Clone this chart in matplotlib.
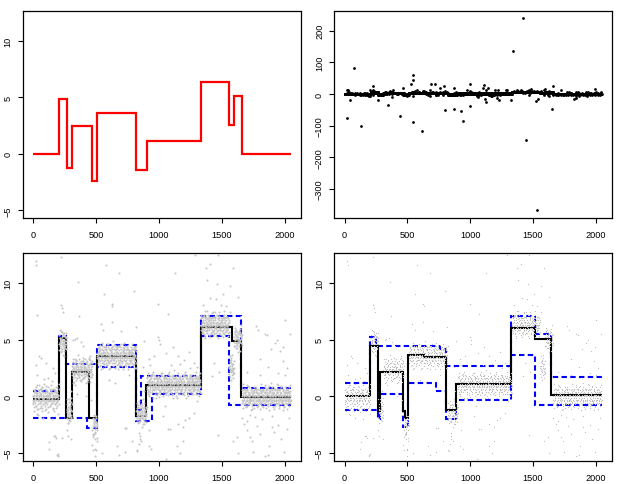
import numpy as np
import matplotlib.pyplot as plt

plt.rcParams['font.family'] = ['Liberation Sans', 'DejaVu Sans']
plt.rcParams['font.size'] = 6.6
plt.rcParams['axes.linewidth'] = 0.9
plt.rcParams['xtick.major.size'] = 3.4
plt.rcParams['ytick.major.size'] = 3.4
plt.rcParams['xtick.major.width'] = 0.8
plt.rcParams['ytick.major.width'] = 0.8
plt.rcParams['xtick.major.pad'] = 5.5
plt.rcParams['ytick.major.pad'] = 4

# true piecewise-constant signal
block_edges = [0, 205, 267, 308, 472, 512, 820, 902, 1332, 1557, 1598, 1659, 2048]
block_levels = [0, 4.88, -1.22, 2.44, -2.44, 3.66, -1.46, 1.10, 6.34, 2.56, 5.12, 0]

# fit 1 (bottom left): estimate and bands
fit1_edges = [0, 204, 265, 306, 444, 510, 820, 899, 1333, 1580, 1655, 2048]
fit1_levels = [-0.2, 5.13, -1.94, 2.18, -1.86, 3.56, -1.73, 0.98, 6.14, 4.92, -0.05]
fit1_up_edges = [0, 204, 262, 510, 820, 860, 1333, 1656, 2048]
fit1_up_levels = [0.5, 5.35, 2.85, 4.53, -1.2, 1.79, 7.08, 0.76]
fit1_lo_edges = [0, 428, 510, 820, 944, 1333, 1561, 2048]
fit1_lo_levels = [-1.91, -2.83, 2.62, -2.15, 0.2, 5.35, -0.77]

# fit 2 (bottom right)
fit2_edges = [0, 206, 266, 279, 466, 478, 503, 630, 807, 887, 1322, 1520, 1644, 2048]
fit2_levels = [0.02, 4.44, -1.27, 2.17, -1.3, -1.86, 3.64, 3.52, -1.2, 1.06, 6.08, 5.1, 0.1]
fit2_up_edges = [0, 206, 250, 763, 807, 1322, 1520, 1644, 2048]
fit2_up_levels = [1.23, 5.25, 4.44, 4.2, 2.7, 7.09, 5.56, 1.72]
fit2_lo_edges = [0, 266, 285, 466, 505, 730, 807, 887, 1322, 1520, 2048]
fit2_lo_levels = [-1.18, -2.0, 0.18, -2.7, 1.23, 0.44, -1.97, -0.28, 3.64, -0.77]

# dense part of the observations, one letter per point ('m' = on the signal)
core_codes = (
    "kmhqjdnrlpigsmkoebnjqlhtmpkfrniomjgqlsdkhpnmxjlorigkmeqnphljsmcko"
    "nlgrjmpkhqoiwlnfmjrkpdlhnqmiosjkgplnbmrhqkjotlmnfipkhsmjlqgnrkdpmi"
    "jpmkrhnlqeojmitkgnplfrmjhqlkonsdmjipkhlqcnmrojgkplimnqjhsfkomlrn"
    "mqilnkgrpjohmlsknqdjmpirlhkonmgtjqlepnkhmriojlqkfnmpsjhlokqnrbmilk"
    "ohkmrjnlpqgimkdnljqshpomkrilfnjqmhkplotgmjnrqklhpimenjkolqrhmsjk"
    "lnqjmkphirolmgkqnjdsmhlpkrnjoimqlkfhprnmjkoqlsigmnpjhkrlqomdnjkpoh"
    "ikmrnjplqhogmknljrpeqmikhsnlojpmkqrjlngihmpkqolnrjmkfplqhnsomijkq"
    "pmjnkqlhriomgnkpjlqmsrhnkodjlmqpinkrlgmjhqpoknmlrjiekqnpmhlsojkm"
    "nrlkmhqjpoinmlgkrqjnphmlokfsnjqimrkplhnojmkqlrgpnimjhqkolnrdmpjkml"
    "mjqnkhlrpoimnkjgqlsmpnhrokljimqkrnplhgmojqnkipmlrhsjnkqompljgnrk"
    "kolmjnqhrpimkngljqoprmhnklsjmqiknoprlhjgmnkqplimorjknhqlsmpjkrnoqm"
    "hnpkmqljriomnkgjlqrpnmhkoisljnmqkprhlgnjmokqiplnrhmjksqolpmnijkr"
    "rlmjnkqhpoimklgnqjrpsmhnkolijmqnkrphlgmjonqkilpmnrjhksoqlmpnjikmqo"
    "jqnmklhrpoinmjgkqlrnpmhskoljinmqkprhlgnmjokqlipnrmhjkqsolmpnjkri"
    "nmkjqlhrpiomnkgjlqrnpmhkoslijmnqkrplhgnjmoqkipmlnrhjksqolpmnijkrmn"
    "mrkjnlqhpoimkngjlqrmpnhksolijmnqkrplhgnjmokqiplnrhmjkqsolpmnjik"
)
wide_codes = (
    "mhqdkrpenwjblsogtiuckfxmaqhvnrjdlpeoswgkbtimfrqcuhnjxepldvkosagm"
    "rkfpwmbjtdoqgxlhesnavicupkmyjfrlbhdqwtenogsiamkcvpxjulfrhbdqnetkoa"
    "ljsqhcvmoxfbnpeuktridwgmalhsqjocyfkvbrnptemgudiwlhjqasxokfcrmevnp"
    "pcnhwjrkemlsbqgvdofxtiumajhycnpkelrsdwbqgfmotvhxkuijlanrcepsmgdqw"
    "iwmbsrfkpdnjgvqxhleotcuamyjrbnfhpwdksqgiloemtcvxajrknbhpufslqdgo"
    "hnrkdxmpjsgbqweltfiovucakmyrhpnjdlbsegwqotfxkicmvarnujhpdlqsbekgtm"
    "qtjmcgnrwbkxpdlhfvsoueiamrkjbnypgcxtlqfdsewhvmoikajbnprcugltqdfm"
    "ekpsbxhrnldgmqwjtcofuivakrlyhmdnpbsegjqxtwfcokivmhardnjulsbpqgekwr"
)

# scattered observations seen off the dense band
extra_x = [27, 226, 359, 580, 681, 564, 801, 628, 630, 997, 226, 232, 240, 35, 367, 538, 628,
           330, 350, 320, 50, 60, 100, 20, 175, 160, 816, 885, 922, 997, 1003, 930, 870,
           1290, 1468, 1404, 1375, 1125, 1380, 1460, 1565, 1510, 1625, 1410, 1450, 1490, 1530,
           1520, 1350, 1370, 1430, 1475, 1565, 1069, 1591, 2003, 2043, 1940, 1920, 1990, 1960,
           1893, 1840, 1800, 1870, 2020, 1987, 1769, 1790, 1856, 1010, 1060, 1110, 1150, 1200,
           1240, 1170, 1280, 1300, 960, 1420, 1440, 1480,
           173, 180, 125, 200, 195, 277, 270, 492, 495, 500, 493, 486, 665, 730, 742, 830, 840,
           845, 850, 925, 920, 940, 128, 191, 165, 229, 303, 468, 476, 548, 731, 684, 787, 824,
           851, 1056, 1088, 1146, 1210, 1150, 1190, 1069, 1192, 1170, 1240, 1280, 1030,
           1471, 1588, 1622, 1625, 1699, 1680, 1700, 1720, 1750, 1740, 1780, 1800, 1820, 1867,
           1875, 1900, 1918, 1950, 1968, 1995, 2021, 2030, 1840, 1760, 1660,
           30, 80, 120, 150, 40, 350, 400, 420, 380, 600, 650, 700, 760, 560, 1050, 1100, 1250,
           1300, 1700, 1800, 1900, 2000, 1950, 1720, 880, 860, 300, 460]
extra_y = [11.6, 12.35, 10.15, 11.6, 10.9, 9.1, 9.35, 8.2, 8.0, 8.2, 8.1, 7.8, 7.5, 7.2, 7.1, 6.4, 6.6,
           5.1, 5.2, 5.0, 3.6, 3.4, 3.0, 2.8, 2.1, 2.5, 6.1, 4.9, 3.3, 5.3, 5.0, 2.8, 2.6,
           12.47, 12.47, 11.7, 11.4, 10.9, 10.3, 9.9, 9.8, 9.1, 8.8, 8.7, 8.6, 8.1, 8.0,
           7.6, 8.1, 7.6, 7.5, 7.5, 7.5, 7.3, 11.4, 6.8, 5.5, 5.0, 4.7, 4.4, 4.0,
           4.2, 5.5, 3.3, 2.6, 2.5, 3.1, 6.2, 5.9, 5.4, 4.6, 3.8, 4.4, 3.6, 3.2,
           3.9, 2.9, 3.0, 2.6, 3.6, 1.8, 3.0, 2.2,
           -3.5, -3.7, -4.65, -5.1, -5.3, -3.5, -3.0, -3.8, -4.6, -4.7, -5.3, -3.3, -4.35, -4.9, -2.75, -4.8, -4.2,
           -3.2, -3.5, -3.0, -4.35, -4.6, -4.0, -5.2, -3.5, -3.7, -3.8, -4.3, -4.7, -5.0, -2.8, -5.2, -3.9, -4.7,
           -3.8, -5.5, -2.9, -4.4, -2.1, -2.4, -2.7, -2.9, -3.9, -5.0, -1.9, -1.5, -1.7,
           -3.4, -3.9, -3.6, -5.0, -2.2, -2.4, -3.0, -3.6, -4.9, -3.9, -2.6, -3.3, -2.0, -5.2,
           -4.4, -2.7, -3.1, -2.5, -3.8, -4.9, -2.9, -1.9, -5.3, -1.8, -1.9,
           1.9, -1.9, 1.6, -2.0, -1.6, 0.2, 4.5, 0.0, 4.8, 1.5, 1.2, 5.8, 1.9, 5.9, -0.8, 2.8, 2.5,
           -0.4, 2.2, 1.9, -1.7, 1.9, 2.1, -1.6, 0.5, -3.9, 0.5, -0.3]

# large outliers (only visible on the full-range panel)
big_x = [21, 74, 45, 130, 223, 201, 270, 345, 382, 377, 443, 464, 528, 546, 546, 544, 615, 689,
         716, 758, 793, 798, 872, 872, 928, 944, 995, 995, 978, 1109, 1101, 1114, 1127, 1138,
         1194, 1220, 1212, 1228, 1061, 1162, 1289, 1321, 1337, 1422, 1448, 1528, 1523, 1536,
         1652, 1660, 1721, 1825, 1843, 1931, 1997, 1485, 1597, 21]
big_y = [-75, 82, -19, -100, 24, 14, -19, -36, 14, -9, -69, 19, 30, 59, 44, -89, -117, 30,
         30, 18, 25, -50, 19, -47, -53, -86, 31, -37, 14, 29, 20, -16, -25, 18,
         13, 13, -13, -18, -10, -7, 13, -19, 137, 239, -145, -368, -22, -15,
         -48, 26, 14, -16, -12, -8, 15, 16, 15, 12]


def band_points(codes, step):
    bx = np.arange(len(codes)) * 2048 / len(codes)
    off = (np.array([ord(c) for c in codes]) - ord('m')) * step
    k = np.searchsorted(block_edges, bx, side='right') - 1
    return bx, np.array(block_levels)[k] + off


core_x, core_y = band_points(core_codes, 0.14)
wide_x, wide_y = band_points(wide_codes, 0.1)
obs_x = np.concatenate([core_x, wide_x, extra_x, big_x])
obs_y = np.concatenate([core_y, wide_y, extra_y, big_y])

fig = plt.figure(figsize=(6.23, 4.85), dpi=100)
ax1 = fig.add_axes([0.0364, 0.5485, 0.4467, 0.4274])
ax2 = fig.add_axes([0.5366, 0.5485, 0.4457, 0.4274])
ax3 = fig.add_axes([0.0364, 0.0480, 0.4467, 0.4282])
ax4 = fig.add_axes([0.5366, 0.0480, 0.4457, 0.4282])

xpad = 0.04 * 2047
ylo, yhi = -5, 12
ypad = 0.04 * (yhi - ylo)
dash = (0, (2.6, 1.6))


def style(ax):
    ax.set_xlim(-xpad, 2047 + xpad)
    ax.set_xticks([0, 500, 1000, 1500, 2000])
    ax.tick_params(axis='y', labelrotation=90)
    for lab in ax.get_yticklabels():
        lab.set_va('center')


ax1.stairs(block_levels, block_edges, baseline=None, color='#FF0000', lw=1.6)
ax1.set_ylim(ylo - ypad, yhi + ypad)
ax1.set_yticks([-5, 0, 5, 10])
style(ax1)

ax2.plot(obs_x, obs_y, 'o', ms=2.0, mfc='black', mec='none')
pad2 = 0.04 * (obs_y.max() - obs_y.min())
ax2.set_ylim(obs_y.min() - pad2, obs_y.max() + pad2)
ax2.set_yticks([-300, -200, -100, 0, 100, 200])
style(ax2)

ax3.plot(obs_x, obs_y, 'o', ms=1.45, mfc='#C4C4C4', mec='none')
ax3.stairs(fit1_up_levels, fit1_up_edges, baseline=None, color='#0000FF', lw=1.5, ls=dash)
ax3.stairs(fit1_lo_levels, fit1_lo_edges, baseline=None, color='#0000FF', lw=1.5, ls=dash)
ax3.stairs(fit1_levels, fit1_edges, baseline=None, color='black', lw=1.5)
ax3.set_ylim(ylo - ypad, yhi + ypad)
ax3.set_yticks([-5, 0, 5, 10])
style(ax3)

ax4.plot(obs_x, obs_y, 's', ms=0.8, mfc='#C0C0C0', mec='none')
ax4.stairs(fit2_up_levels, fit2_up_edges, baseline=None, color='#0000FF', lw=1.5, ls=dash)
ax4.stairs(fit2_lo_levels, fit2_lo_edges, baseline=None, color='#0000FF', lw=1.5, ls=dash)
ax4.stairs(fit2_levels, fit2_edges, baseline=None, color='black', lw=1.5)
ax4.set_ylim(ylo - ypad, yhi + ypad)
ax4.set_yticks([-5, 0, 5, 10])
style(ax4)

fig.savefig('out.png', dpi=100)
